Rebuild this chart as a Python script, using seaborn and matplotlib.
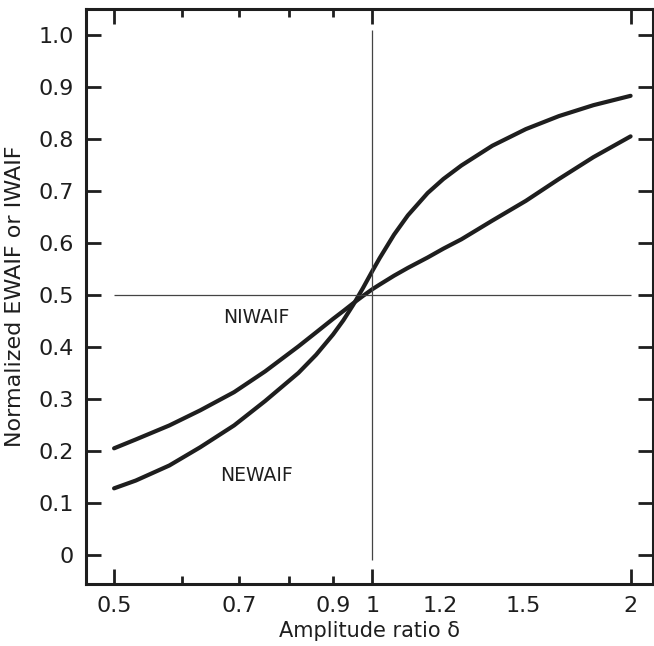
import matplotlib
matplotlib.use("Agg")
import pandas as pd
import matplotlib.pyplot as plt
import seaborn as sns

#region Data

# amplitude ratio delta (log axis) and the two normalized curves
delta = [0.5, 0.53, 0.58, 0.63, 0.69, 0.75, 0.82, 0.86, 0.9, 0.925, 0.95, 0.975,
         1.0, 1.02, 1.06, 1.1, 1.16, 1.21, 1.27, 1.38, 1.51, 1.65, 1.81, 2.0]
niwaif = [0.205, 0.222, 0.249, 0.278, 0.313, 0.353, 0.401, 0.428, 0.454, 0.469, 0.484, 0.498,
          0.511, 0.520, 0.537, 0.552, 0.572, 0.589, 0.607, 0.643, 0.681, 0.723, 0.765, 0.805]
newaif = [0.128, 0.143, 0.172, 0.207, 0.249, 0.296, 0.350, 0.385, 0.424, 0.451, 0.481, 0.513,
          0.546, 0.571, 0.616, 0.653, 0.696, 0.723, 0.749, 0.787, 0.819, 0.844, 0.865, 0.883]

x_major = [0.5, 1, 2]
x_major_labels = ["0.5", "1", "2"]
x_minor = [0.6, 0.7, 0.8, 0.9, 1.2, 1.5]
x_minor_labels = ["", "0.7", "", "0.9", "1.2", "1.5"]
y_ticks = [0, 0.1, 0.2, 0.3, 0.4, 0.5, 0.6, 0.7, 0.8, 0.9, 1.0]
y_tick_labels = ["0", "0.1", "0.2", "0.3", "0.4", "0.5", "0.6", "0.7", "0.8", "0.9", "1.0"]

ref_delta = 1.0   # vertical guide
ref_level = 0.5   # horizontal guide

#endregion Data

#region Plot

sns.set_style("ticks")
plt.rcParams['font.family'] = ['DejaVu Sans']
ink = "#1e1e1e"

fig = plt.figure(figsize=(6.54, 6.46), dpi=100)
ax = fig.add_axes([86/654, 1 - 584/646, (653 - 86)/654, (584 - 9)/646])
ax.set_xscale("log")

curves = pd.DataFrame({
    "delta": delta + delta,
    "value": niwaif + newaif,
    "curve": ["NIWAIF"] * len(delta) + ["NEWAIF"] * len(delta),
})
sns.lineplot(data=curves, x="delta", y="value", hue="curve",
             palette=[ink, ink], linewidth=3.0, legend=False, ax=ax)
for line in ax.get_lines():
    line.set_solid_joinstyle("round")
    line.set_solid_capstyle("round")

# thin guide lines
ax.vlines(ref_delta, y_ticks[0] - 0.01, y_ticks[-1] + 0.01, color="#444444", linewidth=0.9)
ax.hlines(ref_level, x_major[0], x_major[-1], color="#444444", linewidth=0.9)

ax.text(0.733, 0.457, "NIWAIF", ha="center", va="center", fontsize=13.5, color=ink)
ax.text(0.733, 0.152, "NEWAIF", ha="center", va="center", fontsize=13.5, color=ink)

ax.set_xlim(0.4637, 2.124)
ax.set_ylim(-0.056, 1.05)

ax.set_xticks(x_major, x_major_labels)
ax.set_xticks(x_minor, x_minor_labels, minor=True)
ax.set_yticks(y_ticks, y_tick_labels)
ax.yaxis.set_minor_locator(matplotlib.ticker.NullLocator())

ax.tick_params(axis="both", which="both", direction="in", top=True, right=True,
               width=2.0, color=ink, labelcolor=ink, labelsize=16, pad=8.5)
ax.tick_params(axis="both", which="major", length=11)
ax.tick_params(axis="x", which="minor", length=5.8)

# no tick marks at 1.2 and 1.5, only labels
for tick, loc in zip(ax.xaxis.get_minor_ticks(), x_minor):
    if loc > 1:
        tick.tick1line.set_visible(False)
        tick.tick2line.set_visible(False)

for side in ax.spines.values():
    side.set_linewidth(2.2)
    side.set_color(ink)

ax.set_xlabel("Amplitude ratio δ", fontsize=15, color=ink, labelpad=4)
ax.set_ylabel("Normalized EWAIF or IWAIF", fontsize=16, color=ink, labelpad=10)

fig.savefig("out.png", dpi=100)

#endregion Plot
